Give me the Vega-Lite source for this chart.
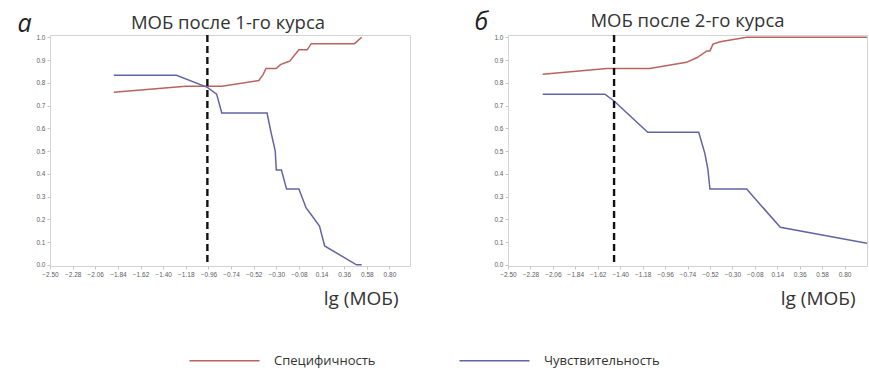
{
  "$schema": "https://vega.github.io/schema/vega-lite/v6.json",
  "background": "white",
  "padding": {"left": 16, "top": 8, "right": 0, "bottom": 0},
  "config": {
    "font": "Open Sans",
    "view": {"stroke": "#d4d4d4", "strokeWidth": 1},
    "axis": {"grid": false, "domain": false, "labelFont": "Liberation Sans", "labelFontSize": 6.5, "labelColor": "#5e5e5e", "tickColor": "#c8c8c8", "tickSize": 3, "labelPadding": 2, "labelOverlap": false, "tickCount": 20},
    "title": {"font": "Open Sans", "fontSize": 18.5, "fontWeight": "normal", "color": "#333333", "offset": -21}
  },
  "datasets": {
    "a": [
      {"x": -1.88, "y": 0.758, "series": "Специфичность"},
      {"x": -1.18, "y": 0.785, "series": "Специфичность"},
      {"x": -0.83, "y": 0.785, "series": "Специфичность"},
      {"x": -0.47, "y": 0.81, "series": "Специфичность"},
      {"x": -0.43, "y": 0.835, "series": "Специфичность"},
      {"x": -0.40, "y": 0.863, "series": "Специфичность"},
      {"x": -0.30, "y": 0.863, "series": "Специфичность"},
      {"x": -0.26, "y": 0.88, "series": "Специфичность"},
      {"x": -0.20, "y": 0.89, "series": "Специфичность"},
      {"x": -0.17, "y": 0.895, "series": "Специфичность"},
      {"x": -0.08, "y": 0.945, "series": "Специфичность"},
      {"x": 0.0, "y": 0.945, "series": "Специфичность"},
      {"x": 0.04, "y": 0.972, "series": "Специфичность"},
      {"x": 0.46, "y": 0.972, "series": "Специфичность"},
      {"x": 0.53, "y": 1.0, "series": "Специфичность"},
      {"x": -1.88, "y": 0.833, "series": "Чувствительность"},
      {"x": -1.27, "y": 0.833, "series": "Чувствительность"},
      {"x": -0.97, "y": 0.78, "series": "Чувствительность"},
      {"x": -0.88, "y": 0.75, "series": "Чувствительность"},
      {"x": -0.83, "y": 0.667, "series": "Чувствительность"},
      {"x": -0.39, "y": 0.667, "series": "Чувствительность"},
      {"x": -0.35, "y": 0.58, "series": "Чувствительность"},
      {"x": -0.31, "y": 0.5, "series": "Чувствительность"},
      {"x": -0.30, "y": 0.417, "series": "Чувствительность"},
      {"x": -0.25, "y": 0.417, "series": "Чувствительность"},
      {"x": -0.20, "y": 0.333, "series": "Чувствительность"},
      {"x": -0.08, "y": 0.333, "series": "Чувствительность"},
      {"x": -0.01, "y": 0.25, "series": "Чувствительность"},
      {"x": 0.04, "y": 0.22, "series": "Чувствительность"},
      {"x": 0.12, "y": 0.17, "series": "Чувствительность"},
      {"x": 0.17, "y": 0.083, "series": "Чувствительность"},
      {"x": 0.48, "y": 0.0, "series": "Чувствительность"},
      {"x": 0.53, "y": 0.0, "series": "Чувствительность"}
    ],
    "b": [
      {"x": -2.16, "y": 0.838, "series": "Специфичность"},
      {"x": -1.53, "y": 0.863, "series": "Специфичность"},
      {"x": -1.11, "y": 0.863, "series": "Специфичность"},
      {"x": -0.75, "y": 0.89, "series": "Специфичность"},
      {"x": -0.65, "y": 0.91, "series": "Специфичность"},
      {"x": -0.55, "y": 0.94, "series": "Специфичность"},
      {"x": -0.52, "y": 0.94, "series": "Специфичность"},
      {"x": -0.49, "y": 0.97, "series": "Специфичность"},
      {"x": -0.42, "y": 0.98, "series": "Специфичность"},
      {"x": -0.16, "y": 1.0, "series": "Специфичность"},
      {"x": 1.02, "y": 1.0, "series": "Специфичность"},
      {"x": -2.16, "y": 0.75, "series": "Чувствительность"},
      {"x": -1.55, "y": 0.75, "series": "Чувствительность"},
      {"x": -1.46, "y": 0.72, "series": "Чувствительность"},
      {"x": -1.13, "y": 0.583, "series": "Чувствительность"},
      {"x": -0.63, "y": 0.583, "series": "Чувствительность"},
      {"x": -0.57, "y": 0.49, "series": "Чувствительность"},
      {"x": -0.54, "y": 0.42, "series": "Чувствительность"},
      {"x": -0.52, "y": 0.333, "series": "Чувствительность"},
      {"x": -0.16, "y": 0.333, "series": "Чувствительность"},
      {"x": 0.17, "y": 0.165, "series": "Чувствительность"},
      {"x": 1.02, "y": 0.095, "series": "Чувствительность"}
    ],
    "cut_a": [{"x": -0.97}],
    "cut_b": [{"x": -1.46}]
  },
  "hconcat": [
    {
      "width": 360,
      "height": 231,
      "title": {"text": "МОБ после 1-го курса", "dx": -2},
      "layer": [
        {
          "data": {"name": "a"},
          "mark": {"type": "line", "strokeWidth": 1.5, "clip": true},
          "encoding": {
            "x": {"field": "x", "type": "quantitative", "scale": {"domain": [-2.5, 1.0], "nice": false, "zero": false},
              "axis": {"values": [-2.5, -2.28, -2.06, -1.84, -1.62, -1.4, -1.18, -0.96, -0.74, -0.52, -0.3, -0.08, 0.14, 0.36, 0.58, 0.8], "tickCount": 20, "format": ".2f", "labelFlush": false, "labelOverlap": false,
                "title": "lg (МОБ)", "titleFont": "Open Sans", "titleFontSize": 19, "titleFontWeight": "normal", "titleColor": "#333333", "titleAnchor": "end", "titlePadding": 12, "titleX": 348}},
            "y": {"field": "y", "type": "quantitative", "scale": {"domain": [-0.005, 1.01], "nice": false},
              "axis": {"values": [0, 0.1, 0.2, 0.3, 0.4, 0.5, 0.6, 0.7, 0.8, 0.9, 1.0], "tickCount": 20, "format": ".1f", "labelOverlap": false,
                "title": "а", "titleAngle": 0, "titleFont": "Open Sans", "titleFontSize": 25, "titleFontStyle": "italic", "titleFontWeight": "normal", "titleColor": "#222222", "titleAlign": "left", "titleBaseline": "alphabetic", "titleX": -33, "titleY": -4}},
            "color": {"field": "series", "type": "nominal", "scale": {"domain": ["Специфичность", "Чувствительность"], "range": ["#b8645e", "#6064a5"]},
              "legend": {"orient": "none", "legendX": 168, "legendY": 319, "direction": "horizontal", "title": null, "symbolType": "M-10,0H10", "symbolSize": 49, "symbolStrokeWidth": 1.5, "labelFont": "Open Sans", "labelFontSize": 13, "labelColor": "#333333", "labelOffset": 43, "columnPadding": 80}}
          }
        },
        {
          "data": {"name": "cut_a"},
          "mark": {"type": "rule", "color": "#111111", "strokeWidth": 2.4, "strokeDash": [7, 4]},
          "encoding": {"x": {"field": "x", "type": "quantitative"}}
        }
      ]
    },
    {
      "width": 359,
      "height": 231,
      "title": {"text": "МОБ после 2-го курса"},
      "layer": [
        {
          "data": {"name": "b"},
          "mark": {"type": "line", "strokeWidth": 1.5, "clip": true},
          "encoding": {
            "x": {"field": "x", "type": "quantitative", "scale": {"domain": [-2.5, 1.02], "nice": false, "zero": false},
              "axis": {"values": [-2.5, -2.28, -2.06, -1.84, -1.62, -1.4, -1.18, -0.96, -0.74, -0.52, -0.3, -0.08, 0.14, 0.36, 0.58, 0.8], "tickCount": 20, "format": ".2f", "labelFlush": false, "labelOverlap": false,
                "title": "lg (МОБ)", "titleFont": "Open Sans", "titleFontSize": 19, "titleFontWeight": "normal", "titleColor": "#333333", "titleAnchor": "end", "titlePadding": 12, "titleX": 347}},
            "y": {"field": "y", "type": "quantitative", "scale": {"domain": [-0.005, 1.01], "nice": false},
              "axis": {"values": [0, 0.1, 0.2, 0.3, 0.4, 0.5, 0.6, 0.7, 0.8, 0.9, 1.0], "tickCount": 20, "format": ".1f", "labelOverlap": false,
                "title": "б", "titleAngle": 0, "titleFont": "Open Sans", "titleFontSize": 25, "titleFontStyle": "italic", "titleFontWeight": "normal", "titleColor": "#222222", "titleAlign": "left", "titleBaseline": "alphabetic", "titleX": -34, "titleY": -6}},
            "color": {"field": "series", "type": "nominal"}
          }
        },
        {
          "data": {"name": "cut_b"},
          "mark": {"type": "rule", "color": "#111111", "strokeWidth": 2.4, "strokeDash": [7, 4]},
          "encoding": {"x": {"field": "x", "type": "quantitative"}}
        }
      ]
    }
  ],
  "spacing": 62
}
